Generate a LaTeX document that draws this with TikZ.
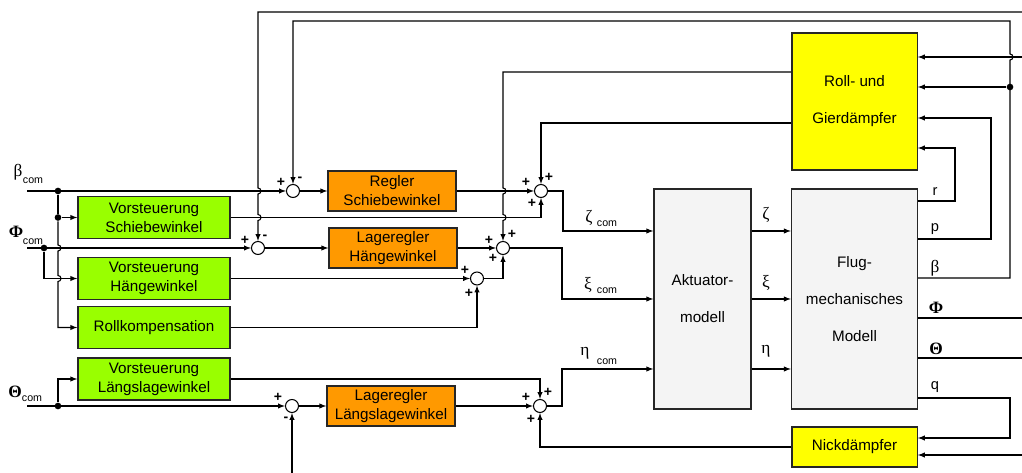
\documentclass[tikz,border=0pt]{standalone}
\usepackage{fontspec}
\setmainfont{Liberation Sans}
\newfontfamily\grk{Liberation Serif}
\usepackage{tikz}
\usetikzlibrary{positioning}

\definecolor{vgreen}{RGB}{153,255,0}
\definecolor{rorange}{RGB}{255,153,0}
\definecolor{dyellow}{RGB}{255,255,0}
\definecolor{mgray}{RGB}{244,244,244}

\begin{document}
\begin{tikzpicture}[x=0.75pt,y=-0.75pt,>=latex,line width=0.8pt,
	block/.style={draw=black!85,line width=1pt,inner sep=0pt,align=center,font=\fontsize{11.4}{14.3}\selectfont},
	vorst/.style={block,fill=vgreen,minimum width=114pt,minimum height=31.5pt},
	regler/.style={block,fill=rorange,minimum width=96pt,minimum height=30pt},
	modell/.style={block,fill=mgray,minimum height=165pt},
	daempfer/.style={block,fill=dyellow,minimum width=94pt},
	sum/.style={circle,draw,fill=white,inner sep=0pt,minimum size=9.75pt},
	dot/.style={circle,fill,inner sep=0pt,minimum size=5pt},
	sgn/.style={font=\fontsize{10.5}{10}\bfseries,inner sep=0pt},
	glbl/.style={font=\grk\fontsize{13}{13}\selectfont,inner sep=0pt},
	sublbl/.style={font=\fontsize{8}{8}\selectfont,inner sep=0pt},
	outlbl/.style={font=\fontsize{11}{11}\selectfont,inner sep=0pt}]
	\useasboundingbox (0,0) rectangle (1022,473);

	% Blocks
	\node[vorst] (vs) at (154,217.5) {Vorsteuerung\\Schiebewinkel};
	\node[vorst] (vh) at (154,278.5) {Vorsteuerung\\Hängewinkel};
	\node[vorst] (rk) at (154,327.5) {Rollkompensation};
	\node[vorst] (vl) at (154,379) {Vorsteuerung\\Längslagewinkel};
	\node[regler] (rs) at (392,191) {Regler\\Schiebewinkel};
	\node[regler] (lh) at (393,248) {Lageregler\\Hängewinkel};
	\node[regler] (ll) at (391,406) {Lageregler\\Längslagewinkel};
	\node[modell,minimum width=72.75pt] (akt) at (702.5,299) {Aktuator-\\[13.5pt]modell};
	\node[modell,minimum width=94.5pt] (flug) at (854.5,299) {Flug-\\[13.5pt]mechanisches\\[13.5pt]Modell};
	\node[daempfer,minimum height=102.75pt] (rgd) at (854.5,101.5) {Roll- und\\[13.5pt]Gierdämpfer};
	\node[daempfer,minimum height=30pt] (nd) at (854.5,447) {Nickdämpfer};

	% Sums and branch points
	\node[sum] (sb) at (293,191) {};
	\node[sum] (sp) at (258,248) {};
	\node[sum] (st) at (292,406) {};
	\node[sum] (sz) at (541,191) {};
	\node[sum] (sx) at (503,248) {};
	\node[sum] (sr) at (477,278.5) {};
	\node[sum] (se) at (540,406) {};
	\node[dot] (bd) at (58,191) {};
	\node[dot] (sd) at (58,217.5) {};
	\node[dot] (pd) at (44,248) {};
	\node[dot] (td) at (58,406) {};
	\node[dot] (fd) at (1010,87) {};
	\coordinate (bin) at (27,191);
	\coordinate (pin) at (27,248);
	\coordinate (tin) at (27,406);
	\coordinate (qin) at (292,473);

	% Commanded values
	\draw[->] (bin) -- (sb.west);
	\draw[->] (pin) -- (sp.west);
	\draw[->] (tin) -- (st.west);
	\draw (bd) -- (sd);
	\draw[->] (sd) -- (vs.west);
	\draw[->] (sd) -- (58,245) arc[start angle=90,end angle=-90,radius=2.25pt]
		-- (58,275.5) arc[start angle=90,end angle=-90,radius=2.25pt] |- (rk.west);
	\draw[->] (pd) |- (vh.west);
	\draw[->] (td) |- (vl.west);

	% Controllers and feedforward
	\draw[->] (sb.east) -- (rs.west);
	\draw[->] (sp.east) -- (lh.west);
	\draw[->] (st.east) -- (ll.west);
	\draw[->] (rs.east) -- (sz.west);
	\draw[->] (lh.east) -- (sx.west);
	\draw[->] (ll.east) -- (se.west);
	\draw[->] (vs.east) -| (sz.south);
	\draw[->] (vh.east) -- (sr.west);
	\draw[->] (rk.east) -| (sr.south);
	\draw[->] (sr.east) -| (sx.south);
	\draw[->] (vl.east) -| (se.north);
	\draw[->] (nd.west) -| (se.south);
	\draw[->] (qin) -- (st.south);

	% Actuator and flight mechanics
	\draw[->] (sz.east) -- (563,191) |- (akt.west |- 0,231);
	\draw[->] (sx.east) -- (562,248) |- (akt.west |- 0,299);
	\draw[->] (se.east) -- (562,406) |- (akt.west |- 0,369);
	\draw[->] (akt.east |- 0,231) -- (flug.west |- 0,231);
	\draw[->] (akt.east |- 0,299) -- (flug.west |- 0,299);
	\draw[->] (akt.east |- 0,369) -- (flug.west |- 0,369);

	% Damper outputs
	\draw[->] (rgd.west |- 0,72) -| (503,188) arc[start angle=90,end angle=-90,radius=2.25pt]
		-- (503,214.5) arc[start angle=90,end angle=-90,radius=2.25pt] -- (sx.north);
	\draw[->] (rgd.west |- 0,123) -| (sz.north);

	% Feedback loops
	\draw[->] (1022,12) -| (258,188) arc[start angle=90,end angle=-90,radius=2.25pt]
		-- (258,214.5) arc[start angle=90,end angle=-90,radius=2.25pt] -- (sp.north);
	\draw[->] (flug.east |- 0,278) -| (1010,60) arc[start angle=-90,end angle=90,radius=2.25pt]
		|- (293,21) -- (sb.north);
	\draw[->] (fd) -- (rgd.east |- fd);
	\draw[->] (1022,57) -- (rgd.east |- 0,57);
	\draw[->] (flug.east |- 0,201) -| (955,148) -- (rgd.east |- 0,148);
	\draw[->] (flug.east |- 0,239) -| (991,118) -- (rgd.east |- 0,118);
	\draw (flug.east |- 0,318) -- (1022,318);
	\draw (flug.east |- 0,358) -- (1022,358);
	\draw[->] (flug.east |- 0,398) -| (1010,438) -- (nd.east |- 0,438);
	\draw[->] (1022,455) -- (nd.east |- 0,455);

	% Signs
	\node[sgn] at (281,182) {+};
	\node[sgn] at (300,179) {-};
	\node[sgn] at (245,240) {+};
	\node[sgn] at (265,237) {-};
	\node[sgn] at (278,397) {+};
	\node[sgn] at (286,419) {-};
	\node[sgn] at (526,182) {+};
	\node[sgn] at (549,177) {+};
	\node[sgn] at (532,203) {+};
	\node[sgn] at (489,240) {+};
	\node[sgn] at (512,234) {+};
	\node[sgn] at (493,258) {+};
	\node[sgn] at (465,270) {+};
	\node[sgn] at (469,293) {+};
	\node[sgn] at (526,397) {+};
	\node[sgn] at (548,392) {+};
	\node[sgn] at (531,419) {+};

	% Labels
	\node[glbl] at (18,172) {β};
	\node[sublbl] at (33,181) {com};
	\node[glbl] at (16,232) {\bfseries Φ};
	\node[sublbl] at (33,242) {com};
	\node[glbl] at (15,392) {\bfseries Θ};
	\node[sublbl] at (32,399) {com};
	\node[glbl] at (589,218) {ζ};
	\node[sublbl] at (607,224) {com};
	\node[glbl] at (588,285) {ξ};
	\node[sublbl] at (607,291) {com};
	\node[glbl] at (585,353) {η};
	\node[sublbl] at (607,362) {com};
	\node[glbl] at (766,215) {ζ};
	\node[glbl] at (766,283) {ξ};
	\node[glbl] at (766,351) {η};
	\node[outlbl] at (935,192) {r};
	\node[outlbl] at (935,229) {p};
	\node[glbl] at (935,268) {β};
	\node[glbl] at (936,308) {\bfseries Φ};
	\node[glbl] at (936,349) {\bfseries Θ};
	\node[outlbl] at (935,387) {q};

\end{tikzpicture}
\end{document}
